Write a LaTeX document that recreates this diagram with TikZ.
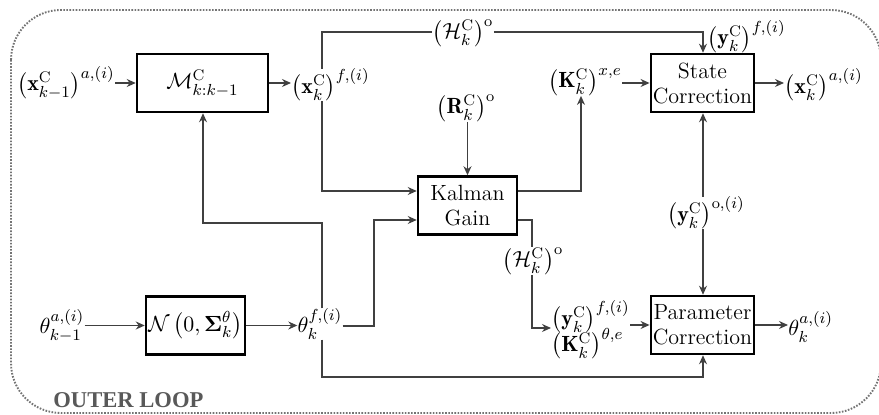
\documentclass[tikz,border=0pt]{standalone}
\usepackage{amsmath}
\usepackage{fontspec}
\newfontfamily\loopfont{Liberation Serif}
\usetikzlibrary{arrows.meta}
\begin{document}
\begin{tikzpicture}[x=0.5pt,y=-0.5pt,
  every node/.style={font=\fontsize{11}{13}\selectfont},
  blk/.style={draw=black,line width=1.25pt,fill=white,minimum width=49.5pt,minimum height=29pt,inner sep=1pt,align=center},
  txt/.style={font=\fontsize{11}{12.5}\selectfont},
  lbl/.style={inner sep=0pt},
  con/.style={draw=black!75,line width=0.6pt},
  arr/.style={con,-{Stealth[length=4.5pt,width=4pt]}}]
\useasboundingbox (0,0) rectangle (879,415);
\draw[black!55, line width=0.95pt, dash pattern=on 0.8pt off 0.75pt, rounded corners=25pt] (11,10) rectangle (881,413);
\node[text=black!65,font=\loopfont\bfseries\fontsize{11.3}{13}\selectfont,inner sep=0pt,anchor=base west] (loop) at (53,408) {OUTER LOOP};
% boxes
\node[blk,minimum width=65.5pt] (M) at (202.5,83) {$\mathcal{M}^{\mathrm{C}}_{k:k-1}$};
\node[blk] (N) at (195.5,325.5) {$\mathcal{N}\left(0,\boldsymbol{\Sigma}^{\theta}_{k}\right)$};
\node[blk,txt] (KG) at (467.5,205.5) {Kalman\\Gain};
\node[blk,txt] (S) at (702.5,83) {State\\Correction};
\node[blk,txt] (P) at (702.5,325) {Parameter\\Correction};
% labels
\node[lbl] (xin) at (66,83) {$\left(\mathbf{x}^{\mathrm{C}}_{k-1}\right)^{a,(i)}$};
\node[lbl,anchor=west] (xf) at (291,85) {$\left(\mathbf{x}^{\mathrm{C}}_{k}\right)^{f,(i)}$};
\node[lbl] (Ht) at (463,33) {$\left(\mathcal{H}^{\mathrm{C}}_{k}\right)^{\mathrm{o}}$};
\node[lbl,anchor=south west] (yt) at (707,53) {$\left(\mathbf{y}^{\mathrm{C}}_{k}\right)^{f,(i)}$};
\node[lbl] (Kl) at (585,82) {$\left(\mathbf{K}^{\mathrm{C}}_{k}\right)^{x,e}$};
\node[lbl] (R) at (466,108) {$\left(\mathbf{R}^{\mathrm{C}}_{k}\right)^{\mathrm{o}}$};
\node[lbl,anchor=west] (xa) at (784,85) {$\left(\mathbf{x}^{\mathrm{C}}_{k}\right)^{a,(i)}$};
\node[lbl] (yo) at (706,213) {$\left(\mathbf{y}^{\mathrm{C}}_{k}\right)^{\mathrm{o},(i)}$};
\node[lbl] (Hm) at (533,261) {$\left(\mathcal{H}^{\mathrm{C}}_{k}\right)^{\mathrm{o}}$};
\node[lbl,align=left,anchor=west] (yK) at (551,330) {$\left(\mathbf{y}^{\mathrm{C}}_{k}\right)^{f,(i)}$\\[-3.5pt]$\left(\mathbf{K}^{\mathrm{C}}_{k}\right)^{\theta,e}$};
\node[lbl] (tin) at (62,326) {$\theta^{a,(i)}_{k-1}$};
\node[lbl] (tf) at (320,324) {$\theta^{f,(i)}_{k}$};
\node[lbl,anchor=west] (ta) at (788,327) {$\theta^{a,(i)}_{k}$};
% coordinates
\coordinate (c1) at (322,32);
\coordinate (c2) at (703,32);
\coordinate (a1) at (322,191);
\coordinate (a2) at (374,220);
\coordinate (a3) at (374,326);
\coordinate (d1) at (322,223);
\coordinate (d2) at (203,223);
\coordinate (e1) at (322,377);
\coordinate (e2) at (703,377);
\coordinate (b1) at (581,191);
\coordinate (b2) at (532,220);
\coordinate (b3) at (532,328);
% connectors
\draw[arr] (xin.east |- M.west) -- (M.west);
\draw[arr] (M.east) -- (xf.west |- M.east);
\draw[con] (xf.north -| c1) -- (c1) -- (Ht.west |- c1);
\draw[arr] (Ht.east |- c2) -- (c2) -- (S.north -| c2);
\draw[arr] (xf.south -| a1) -- (a1) -- (a1 -| KG.west);
\draw[arr] (R.south -| KG.north) -- (KG.north);
\draw[arr] (b1 -| KG.east) -- (b1) -- (Kl.south -| b1);
\draw[arr] (Kl.east |- S.west) -- (S.west);
\draw[arr] (S.east) -- (xa.west |- S.east);
\draw[arr] (yo.north -| c2) -- (S.south -| c2);
\draw[arr] (yo.south -| c2) -- (P.north -| c2);
\draw[con] (b2 -| KG.east) -- (b2) -- (Hm.north -| b2);
\draw[arr] (Hm.south -| b2) -- (b3) -- (b3 -| yK.west);
\draw[arr] (yK.east |- P.west) -- (P.west);
\draw[arr] (P.east) -- (ta.west |- P.east);
\draw[arr] (tin.east |- N.west) -- (N.west);
\draw[arr] (N.east) -- (tf.west |- N.east);
\draw[arr] (tf.east |- a3) -- (a3) -- (a2) -- (a2 -| KG.west);
\draw[arr] (tf.north -| d1) -- (d1) -- (d2) -- (M.south -| d2);
\draw[arr] (tf.south -| e1) -- (e1) -- (e2) -- (P.south -| e2);
\end{tikzpicture}
\end{document}
